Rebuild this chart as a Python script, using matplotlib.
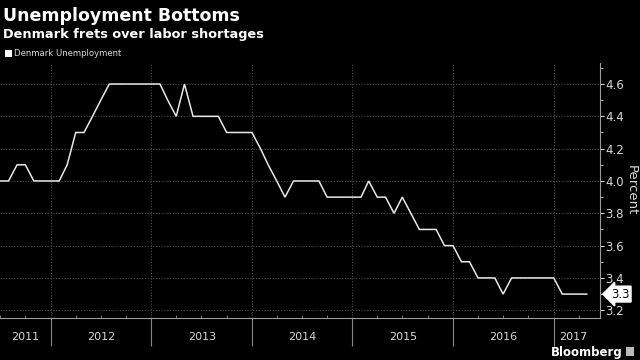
import numpy as np
import pandas as pd
import matplotlib
matplotlib.use("Agg")
import matplotlib.pyplot as plt
import matplotlib.dates as mdates
from matplotlib.patches import Rectangle

# monthly Denmark unemployment rate, Jul 2011 .. May 2017
start_month = "2011-07-01"
unemployment = [
    4.0, 4.0, 4.1, 4.1, 4.0, 4.0,                                   # 2011 H2
    4.0, 4.0, 4.1, 4.3, 4.3, 4.4, 4.5, 4.6, 4.6, 4.6, 4.6, 4.6,     # 2012
    4.6, 4.6, 4.5, 4.4, 4.6, 4.4, 4.4, 4.4, 4.4, 4.3, 4.3, 4.3,     # 2013
    4.3, 4.2, 4.1, 4.0, 3.9, 4.0, 4.0, 4.0, 4.0, 3.9, 3.9, 3.9,     # 2014
    3.9, 3.9, 4.0, 3.9, 3.9, 3.8, 3.9, 3.8, 3.7, 3.7, 3.7, 3.6,     # 2015
    3.6, 3.5, 3.5, 3.4, 3.4, 3.4, 3.3, 3.4, 3.4, 3.4, 3.4, 3.4,     # 2016
    3.4, 3.3, 3.3, 3.3, 3.3,                                        # 2017
]
years = [2011, 2012, 2013, 2014, 2015, 2016, 2017]
y_ticks = [3.2, 3.4, 3.6, 3.8, 4.0, 4.2, 4.4, 4.6]

dates = pd.date_range(start_month, periods=len(unemployment), freq="MS")

fg = "#d9d9d9"
grid_c = "#4a4a4a"

fig = plt.figure(figsize=(6.4, 3.6), dpi=100, facecolor="black")
ax = fig.add_axes([0.0, 0.118, 600 / 640, 0.825 - 0.118], facecolor="black")

ax.plot(dates, unemployment, color="#e8e8e8", lw=1.1, solid_joinstyle="miter")

x0 = pd.Timestamp("2011-07-01")
x1 = pd.Timestamp("2017-06-18")
ax.set_xlim(x0, x1)
ax.set_ylim(3.155, 4.73)

# y axis on the right
ax.yaxis.tick_right()
ax.set_yticks(y_ticks)
ax.set_yticklabels([f"{v:.1f}" for v in y_ticks])
ax.set_yticks(np.arange(3.3, 4.71, 0.2), minor=True)
ax.tick_params(axis="y", which="major", colors=fg, labelsize=8.5, length=3, pad=1)
ax.tick_params(axis="y", which="minor", colors=fg, length=2)
fig.text(631 / 640, 1 - 190 / 360, "Percent", color=fg, fontsize=9.5,
         rotation=-90, ha="center", va="center")

# x axis: year separators and quarter ticks
ax.xaxis.set_major_locator(mdates.YearLocator())
ax.xaxis.set_minor_locator(mdates.MonthLocator(bymonth=[1, 4, 7, 10]))
ax.xaxis.set_major_formatter(plt.NullFormatter())
ax.tick_params(axis="x", which="major", colors="#888888", length=20, width=0.8)
ax.tick_params(axis="x", which="minor", colors="#888888", length=2.5, direction="in")

for y in years:
    a = max(pd.Timestamp(f"{y}-01-01"), x0)
    b = min(pd.Timestamp(f"{y + 1}-01-01"), dates[-1] + pd.Timedelta(days=20))
    mid = a + (b - a) / 2
    ax.text(mid, -0.075, str(y), transform=ax.get_xaxis_transform(),
            ha="center", va="center", color=fg, fontsize=8)

ax.grid(True, which="major", axis="both", color=grid_c, ls=(0, (1, 1.5)), lw=0.8)

for s in ["top", "left"]:
    ax.spines[s].set_visible(False)
ax.spines["right"].set_color("#9a9a9a")
ax.spines["bottom"].set_color("#9a9a9a")

# last value tag
ax.annotate(f"{unemployment[-1]:.1f}", xy=(1.0, unemployment[-1]),
            xycoords=ax.get_yaxis_transform(), xytext=(8, 0),
            textcoords="offset points", ha="left", va="center",
            fontsize=8.5, color="black", annotation_clip=False,
            bbox=dict(boxstyle="larrow,pad=0.12", fc="white", ec="white"))

# titles
fig.text(0.004, 0.955, "Unemployment Bottoms", color="white", fontsize=12.5,
         fontweight="bold", ha="left", va="center")
fig.text(0.004, 0.905, "Denmark frets over labor shortages", color="white",
         fontsize=9.3, fontweight="bold", ha="left", va="center")
fig.patches.append(Rectangle((5 / 640, 1 - 57 / 360), 7 / 640, 7 / 360,
                             transform=fig.transFigure, fc="white", ec="none"))
fig.text(14 / 640, 1 - 53.5 / 360, "Denmark Unemployment", color=fg,
         fontsize=6.1, ha="left", va="center")

fig.text(0.973, 0.022, "Bloomberg", color="white", fontsize=8.5,
         fontweight="bold", ha="right", va="center")
fig.patches.append(Rectangle((626 / 640, 4 / 360), 8 / 640, 9 / 360,
                             transform=fig.transFigure, fc="#bbbbbb", ec="none"))

fig.savefig("out.png", dpi=100, facecolor="black")
